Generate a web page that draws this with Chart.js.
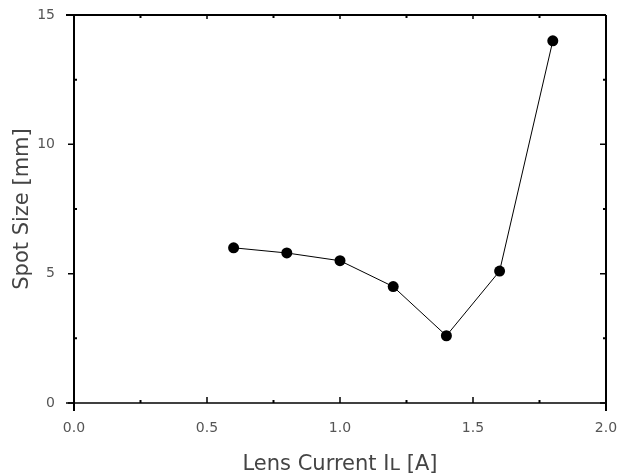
<!DOCTYPE html>
<html>
<head>
<meta charset="utf-8">
<script src="https://cdn.jsdelivr.net/npm/chart.js@4"></script>
<style>
  html, body { margin: 0; padding: 0; background: #fff; }
  #wrap { width: 617px; height: 473px; }
</style>
</head>
<body>
<div id="wrap"><canvas id="chart"></canvas></div>
<script>
// data
const lensCurrent = [0.6, 0.8, 1.0, 1.2, 1.4, 1.6, 1.8];
const spotSize = [6.0, 5.8, 5.5, 4.5, 2.6, 5.1, 14.0];

const xMajor = [0.0, 0.5, 1.0, 1.5, 2.0];
const xMinor = [0.25, 0.75, 1.25, 1.75];
const yMajor = [0, 5, 10, 15];
const yMinor = [2.5, 7.5, 12.5];

// frame + tick marks like the original plot
const framePlugin = {
    id: 'frame',
    afterDraw(chart) {
        const ctx = chart.ctx;
        const x = chart.scales.x, y = chart.scales.y;
        const L = x.getPixelForValue(0), R = x.getPixelForValue(2);
        const T = y.getPixelForValue(15), B = y.getPixelForValue(0);
        ctx.save();
        ctx.strokeStyle = '#000';
        ctx.lineWidth = 2;
        ctx.beginPath();
        ctx.moveTo(L - 8, T); ctx.lineTo(R, T);
        ctx.moveTo(L, T); ctx.lineTo(L, B + 8);
        ctx.moveTo(R, T); ctx.lineTo(R, B + 8);
        ctx.stroke();
        ctx.lineWidth = 1.5;
        ctx.beginPath();
        ctx.moveTo(L - 8, B); ctx.lineTo(R, B);
        ctx.stroke();

        ctx.lineWidth = 1.5;
        ctx.beginPath();
        yMajor.forEach(function(v) {
            const py = y.getPixelForValue(v);
            ctx.moveTo(L - 6, py); ctx.lineTo(L, py);
            ctx.moveTo(R - 6, py); ctx.lineTo(R, py);
        });
        xMajor.forEach(function(v) {
            const px = x.getPixelForValue(v);
            ctx.moveTo(px, B); ctx.lineTo(px, B - 6);
            ctx.moveTo(px, T); ctx.lineTo(px, T + 4);
        });
        ctx.stroke();
        ctx.lineWidth = 2;
        ctx.beginPath();
        yMinor.forEach(function(v) {
            const py = y.getPixelForValue(v);
            ctx.moveTo(L, py); ctx.lineTo(L + 3, py);
            ctx.moveTo(R, py); ctx.lineTo(R - 3, py);
        });
        xMinor.forEach(function(v) {
            const px = x.getPixelForValue(v);
            ctx.moveTo(px, B); ctx.lineTo(px, B - 3);
            ctx.moveTo(px, T); ctx.lineTo(px, T + 3);
        });
        ctx.stroke();
        ctx.restore();
    }
};

const data = {
    datasets: [{
        data: lensCurrent.map(function(v, i) { return {x: v, y: spotSize[i]}; }),
        borderColor: '#000',
        backgroundColor: '#000',
        borderWidth: 1,
        pointRadius: 5.5,
        pointHoverRadius: 5.5,
        pointBackgroundColor: '#000',
        pointBorderWidth: 0,
        showLine: true,
        tension: 0
    }]
};

const config = {
    type: 'scatter',
    data: data,
    options: {
        responsive: false,
        animation: false,
        devicePixelRatio: 1,
        layout: { padding: { top: 15, right: 11, left: 0, bottom: 0 } },
        plugins: { legend: { display: false }, tooltip: { enabled: false } },
        scales: {
            x: {
                type: 'linear',
                min: 0, max: 2,
                afterFit: function(s) {
                    s.height = 70;
                    s.paddingLeft = 0;
                    s.paddingRight = 0;
                },
                afterBuildTicks: function(s) { s.ticks = xMajor.map(function(v) { return {value: v}; }); },
                grid: { display: false, drawTicks: false },
                border: { display: false },
                ticks: {
                    padding: 17,
                    color: '#555',
                    font: { family: 'DejaVu Sans', size: 14 },
                    callback: function(v) { return v.toFixed(1); }
                },
                title: {
                    display: true,
                    text: 'Lens Current I\u029F [A]',
                    color: '#444',
                    font: { family: 'DejaVu Sans', size: 21 },
                    padding: { top: 0, bottom: -4 }
                }
            },
            y: {
                type: 'linear',
                min: 0, max: 15,
                afterFit: function(s) {
                    s.width = 74;
                    s.paddingTop = 0;
                    s.paddingBottom = 0;
                },
                afterBuildTicks: function(s) { s.ticks = yMajor.map(function(v) { return {value: v}; }); },
                grid: { display: false, drawTicks: false },
                border: { display: false },
                ticks: {
                    padding: 19,
                    color: '#555',
                    font: { family: 'DejaVu Sans', size: 14 }
                },
                title: {
                    display: true,
                    text: 'Spot Size [mm]',
                    color: '#444',
                    font: { family: 'DejaVu Sans', size: 21 },
                    padding: { top: 10, bottom: 0 }
                }
            }
        }
    },
    plugins: [framePlugin]
};

const canvas = document.getElementById('chart');
canvas.width = 617;
canvas.height = 473;
new Chart(canvas, config);
</script>
</body>
</html>
